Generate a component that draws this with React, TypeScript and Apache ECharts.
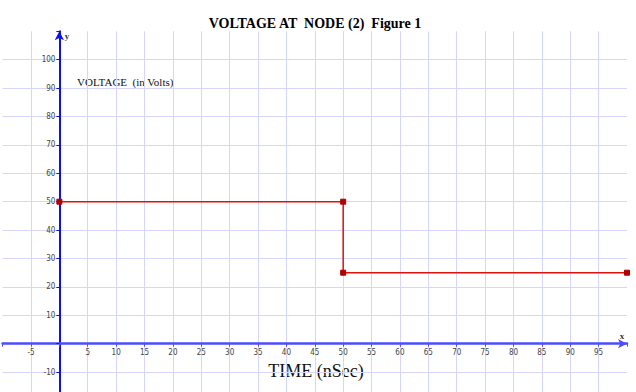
import React, { useEffect, useRef } from "react";
import * as echarts from "echarts";

const timeNs = [0, 50, 50, 100];
const voltage = [50, 50, 25, 25];

const titleText = "VOLTAGE AT  NODE (2)  Figure 1";
const yNote = "VOLTAGE  (in Volts)";
const xNote = "TIME (nSec)";

const xMin = -10;
const xMax = 100;
const xStep = 5;
const yMin = -20;
const yMax = 110;
const yStep = 10;

const xHiddenLabels = [-10, 0, 100];
const yHiddenLabels = [-20, 0, 110];

const W = 636;
const H = 410;
const GRID_LEFT = 2.6;
const GRID_RIGHT = 9;
const GRID_TOP = 31.3;
const GRID_BOTTOM = 9.5;

export default function App() {
  const ref = useRef<HTMLDivElement>(null);
  useEffect(() => {
    if (!ref.current) return;
    const chart = echarts.init(ref.current, null, { renderer: "svg" });
    const gridColor = "#d6d6fb";
    const labelFont = "'DejaVu Sans Condensed', 'DejaVu Sans', sans-serif";
    const plotW = W - GRID_LEFT - GRID_RIGHT;
    const plotH = H - GRID_TOP - GRID_BOTTOM;
    const yZeroFromBottom = ((0 - yMin) / (yMax - yMin)) * plotH;
    const xZeroFromLeft = ((0 - xMin) / (xMax - xMin)) * plotW;
    chart.setOption({
      animation: false,
      backgroundColor: "#ffffff",
      grid: {
        left: GRID_LEFT,
        right: GRID_RIGHT,
        top: GRID_TOP,
        bottom: GRID_BOTTOM,
        containLabel: false,
        outerBoundsMode: "none",
      },
      xAxis: {
        type: "value",
        min: xMin,
        max: xMax,
        interval: xStep,
        position: "bottom",
        offset: -yZeroFromBottom,
        axisLine: {
          onZero: false,
          symbol: ["none", "arrow"],
          symbolSize: [7, 9],
          lineStyle: { color: "#4d4dff", width: 2.5 },
        },
        axisTick: { show: true, length: 3, lineStyle: { color: "#4d4dff", width: 1 } },
        axisLabel: {
          margin: 5,
          fontSize: 8,
          color: "#444",
          fontFamily: labelFont,
          formatter: (v: number) => (xHiddenLabels.includes(v) ? "" : String(v)),
        },
        splitLine: {
          show: true,
          showMinLine: false,
          showMaxLine: false,
          lineStyle: { color: gridColor, width: 1 },
        },
      },
      yAxis: {
        type: "value",
        min: yMin,
        max: yMax,
        interval: yStep,
        position: "left",
        offset: -xZeroFromLeft,
        axisLine: {
          onZero: false,
          symbol: ["none", "arrow"],
          symbolSize: [7, 9],
          lineStyle: { color: "#1010ee", width: 2 },
        },
        axisTick: { show: true, length: 3, lineStyle: { color: "#1010ee", width: 1 } },
        axisLabel: {
          margin: 4,
          fontSize: 8,
          color: "#444",
          fontFamily: labelFont,
          formatter: (v: number) => (yHiddenLabels.includes(v) ? "" : String(v)),
        },
        splitLine: {
          show: true,
          showMinLine: false,
          showMaxLine: false,
          lineStyle: { color: gridColor, width: 1 },
        },
      },
      series: [
        {
          type: "line",
          data: timeNs.map((t, i) => [t, voltage[i]]),
          symbol: "rect",
          symbolSize: 5,
          showSymbol: true,
          itemStyle: { color: "#b00000", borderColor: "#b00000" },
          lineStyle: { color: "#e01010", width: 1.5 },
          z: 5,
        },
      ],
      graphic: [
        {
          type: "text",
          x: 315,
          y: 23,
          style: {
            text: titleText,
            fontFamily: "'Liberation Serif', 'Times New Roman', serif",
            fontWeight: "bold",
            fontSize: 14,
            fill: "#000",
            align: "center",
            verticalAlign: "middle",
          },
        },
        {
          type: "text",
          x: 77,
          y: 82,
          style: {
            text: yNote,
            fontFamily: "'Liberation Serif', 'Times New Roman', serif",
            fontSize: 11,
            fill: "#111",
            align: "left",
            verticalAlign: "middle",
          },
        },
        {
          type: "text",
          x: 316,
          y: 371,
          style: {
            text: xNote,
            fontFamily: "'Liberation Serif', 'Times New Roman', serif",
            fontSize: 18,
            fill: "#111",
            align: "center",
            verticalAlign: "middle",
          },
        },
        {
          type: "text",
          x: 67,
          y: 36,
          style: {
            text: "y",
            fontFamily: "'Liberation Serif', serif",
            fontWeight: "bold",
            fontSize: 9,
            fill: "#333",
            align: "center",
            verticalAlign: "middle",
          },
        },
        {
          type: "text",
          x: 622,
          y: 336,
          style: {
            text: "x",
            fontFamily: "'Liberation Serif', serif",
            fontWeight: "bold",
            fontSize: 9,
            fill: "#333",
            align: "center",
            verticalAlign: "middle",
          },
        },
      ],
    });
    return () => chart.dispose();
  }, []);
  return (
    <div
      style={{
        position: "fixed",
        left: 0,
        top: 0,
        width: 636,
        height: 392,
        overflow: "hidden",
        background: "#fff",
      }}
    >
      <div ref={ref} style={{ width: W, height: H }} />
    </div>
  );
}
